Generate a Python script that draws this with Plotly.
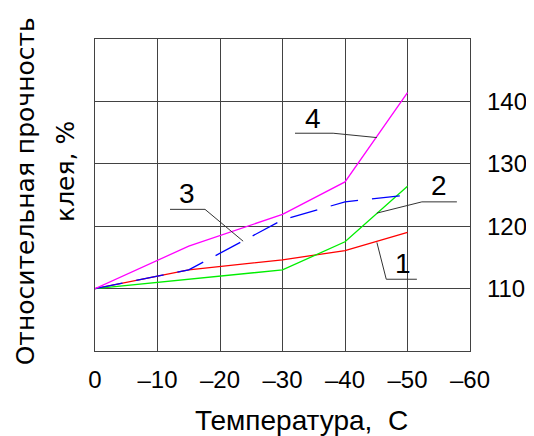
import plotly.graph_objects as go

temps_1 = [0, -15, -30, -40, -50]
strength_1 = [110, 113, 114.6, 116.1, 119.0]

temps_2 = [0, -30, -40, -50]
strength_2 = [110, 113.0, 117.5, 126.4]

temps_3 = [0, -15, -30, -40, -50]
strength_3 = [110, 113, 121.0, 123.9, 125.0]

temps_4 = [0, -15, -30, -40, -50]
strength_4 = [110, 116.8, 121.9, 127.1, 141.4]

x_ticks = [0, -10, -20, -30, -40, -50, -60]
x_ticktext = ["0", "–10", "–20", "–30", "–40", "–50", "–60"]
y_ticks = [100, 110, 120, 130, 140, 150]
y_ticktext = ["", "110", "120", "130", "140", ""]

# curve labels: (label, text x, text y, leader path)
labels = [
    ("4", -34.9, 137.3, [(-32, 134.9), (-38.1, 134.9), (-45.1, 134.2)]),
    ("3", -14.7, 125.3, [(-12, 122.7), (-17.6, 122.7), (-23.7, 117.6)]),
    ("2", -55.0, 126.6, [(-57.9, 123.9), (-52.3, 123.9), (-45.1, 122.1)]),
    ("1", -49.2, 114.1, [(-51.5, 111.5), (-46.6, 111.5), (-45.1, 117.4)]),
]

NARROW = "Liberation Sans Narrow, Liberation Sans"
SANS = "Liberation Sans"
WIDE = "DejaVu Sans"
grid_col = "#424242"

fig = go.Figure()
fig.add_trace(go.Scatter(x=temps_1, y=strength_1, mode="lines",
                         line=dict(color="#ff0000", width=1.3)))
fig.add_trace(go.Scatter(x=temps_2, y=strength_2, mode="lines",
                         line=dict(color="#00ee00", width=1.3)))
fig.add_trace(go.Scatter(x=temps_3, y=strength_3, mode="lines",
                         line=dict(color="#0000ff", width=1.3, dash="28px,14px")))
fig.add_trace(go.Scatter(x=temps_4, y=strength_4, mode="lines",
                         line=dict(color="#ff00ff", width=1.3)))

for text, tx, ty, path in labels:
    fig.add_trace(go.Scatter(x=[p[0] for p in path], y=[p[1] for p in path],
                             mode="lines", line=dict(color="#333333", width=1)))
    fig.add_annotation(x=tx, y=ty, text=text, showarrow=False,
                       font=dict(family=NARROW, size=28, color="black"))

fig.add_annotation(xref="paper", yref="paper", x=-0.183, y=0.513,
                   text="Относительная прочность", textangle=-90,
                   showarrow=False, font=dict(family=WIDE, size=25, color="black"),
                   xanchor="center", yanchor="middle")
fig.add_annotation(xref="paper", yref="paper", x=-0.079, y=0.575,
                   text="клея, %", textangle=-90,
                   showarrow=False, font=dict(family=WIDE, size=25, color="black"),
                   xanchor="center", yanchor="middle")

fig.add_annotation(xref="paper", yref="paper", x=0.551, y=-0.224,
                   text="Температура,  С", showarrow=False,
                   font=dict(family=SANS, size=28, color="black"),
                   xanchor="center", yanchor="middle")

fig.update_layout(
    width=526, height=428,
    margin=dict(l=87, r=64, t=31, b=85),
    paper_bgcolor="white", plot_bgcolor="white",
    showlegend=False,
    font=dict(family=SANS, color="black"),
    xaxis=dict(range=[0, -60], tickvals=x_ticks, ticktext=x_ticktext,
               automargin=False,
               showgrid=True, gridcolor=grid_col, gridwidth=1.3,
               showline=True, linecolor=grid_col, linewidth=1.3, mirror=True,
               zeroline=False, ticks="", ticklabelstandoff=7,
               tickfont=dict(family=SANS, size=24)),
    yaxis=dict(range=[100, 150], tickvals=y_ticks, ticktext=y_ticktext,
               side="right", automargin=False,
               showgrid=True, gridcolor=grid_col, gridwidth=1.3,
               showline=True, linecolor=grid_col, linewidth=1.3, mirror=True,
               zeroline=False, ticks="", ticklabelstandoff=11,
               tickfont=dict(family=SANS, size=24)),
)

fig.write_html("out.html")
